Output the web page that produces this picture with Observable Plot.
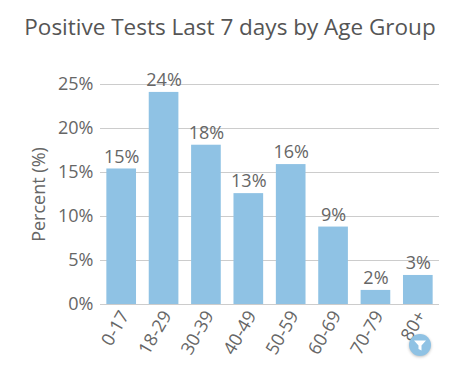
<!DOCTYPE html>
<html>
<head>
<meta charset="utf-8">
<script src="https://cdn.jsdelivr.net/npm/d3@7"></script>
<script src="https://cdn.jsdelivr.net/npm/@observablehq/plot@0.6"></script>
<style>
html,body{margin:0;padding:0;background:#fff;overflow:hidden}
#wrap{position:relative;width:474px;height:382px;font-family:"Open Sans",sans-serif}
#title{height:50px;line-height:54px;width:460px;text-align:center;font-size:22.5px;color:#555;white-space:nowrap}
#filter{position:absolute;left:409px;top:334px;width:22px;height:22px;border-radius:50%;background:#8fc2e4;box-shadow:0 1px 3px rgba(0,0,0,.25)}
svg{display:block}
</style>
</head>
<body>
<div id="wrap">
<div id="title">Positive Tests Last 7 days by Age Group</div>
<div id="chart"></div>
<div id="filter"><svg width="22" height="22" viewBox="0 0 22 22"><path d="M5 6.5H17L12.5 11.5V16.5L9.5 15V11.5Z" fill="#fff"/></svg></div>
</div>
<script>
const ageGroups = ["0-17","18-29","30-39","40-49","50-59","60-69","70-79","80+"];
const percents = [15.4,24.1,18.1,12.6,15.9,8.8,1.6,3.3];
const yTicks = [0,5,10,15,20,25];
const rows = ageGroups.map((g,i)=>({g,v:percents[i]}));
const textColor = "#666";
const chart = Plot.plot({
  width:474,height:332,
  marginLeft:100,marginRight:35,marginTop:34,marginBottom:78,
  style:{fontFamily:'"Open Sans",sans-serif',fontSize:"18px",color:textColor,background:"#fff"},
  x:{domain:ageGroups,paddingInner:0.3,paddingOuter:0.15,round:false,label:null},
  y:{domain:[0,25],label:null},
  marks:[
    Plot.ruleY(yTicks,{stroke:"#ccc",strokeWidth:1,strokeOpacity:1}),
    Plot.barY(rows,{x:"g",y:"v",fill:"#8fc2e4"}),
    Plot.text(rows,{x:"g",y:"v",text:d=>Math.round(d.v)+"%",dy:-12,fontSize:18,fill:textColor}),
    Plot.axisY({ticks:yTicks,tickFormat:d=>d+"%",tickSize:0,tickPadding:7,fontSize:18,fill:textColor,
      label:"Percent (%)",labelAnchor:"center",labelArrow:"none",labelOffset:68}),
    Plot.axisX({tickRotate:-60,tickSize:0,tickPadding:8,dx:3,fontSize:18,fill:textColor,label:null})
  ]
});
document.getElementById("chart").append(chart);
</script>
</body>
</html>
